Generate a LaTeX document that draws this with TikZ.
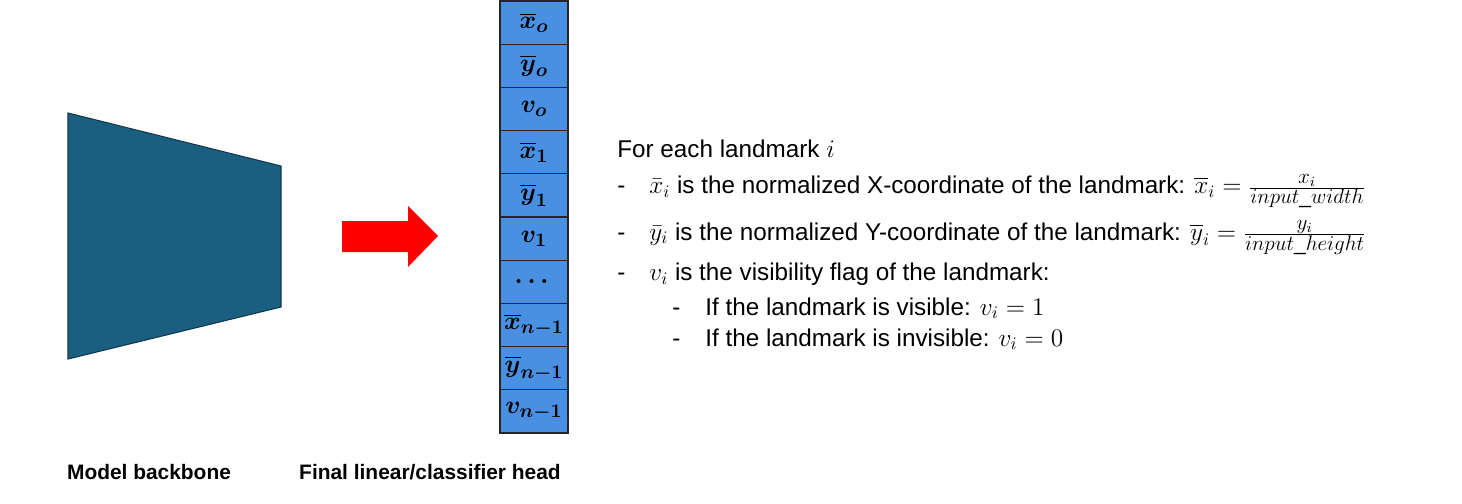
\documentclass[tikz,border=0pt]{standalone}
\usepackage{amsmath}
\usepackage{fontspec}
\setmainfont{Liberation Sans}
\usetikzlibrary{positioning}

\definecolor{backbone}{RGB}{26,94,128}
\definecolor{cellblue}{RGB}{74,144,226}

\tikzset{
  cell/.style={draw=black!85, line width=0.6pt, fill=cellblue, minimum width=1.36cm,
    minimum height=0.864cm, inner sep=0pt, outer sep=0pt, font=\fontsize{15.5}{18}\selectfont\boldmath},
  txt/.style={anchor=base west, inner sep=0pt, font=\fontsize{13.8}{16}\selectfont},
  caption/.style={anchor=base, inner sep=0pt, font=\fontsize{11.9}{14}\selectfont\bfseries},
}

\begin{document}
\begin{tikzpicture}
        \useasboundingbox (0, 0) rectangle (29.24, 10.06);

        % Draw the backbone
        \draw[fill=backbone, draw=backbone!60!black, line width=0.6pt]
            (1.36, 7.80) -- (5.62, 6.74) -- (5.62, 3.92) -- (1.36, 2.88) -- cycle;

        % Big red arrow
        \fill[red] (6.84, 5.64) -- (8.16, 5.64) -- (8.16, 5.94) -- (8.76, 5.34)
            -- (8.16, 4.72) -- (8.16, 5.02) -- (6.84, 5.02) -- cycle;

        % Draw the cells of the output vector
        \node[cell] (x0) at (10.68, 9.608) {$\overline{x}_o$};
        \node[cell, below=0pt of x0] (y0) {$\overline{y}_o$};
        \node[cell, below=0pt of y0] (v0) {$v_o$};
        \node[cell, below=0pt of v0] (x1) {$\overline{x}_1$};
        \node[cell, below=0pt of x1] (y1) {$\overline{y}_1$};
        \node[cell, below=0pt of y1] (v1) {$v_1$};
        \node[cell, below=0pt of v1] (dots) {$\dots$};
        \node[cell, below=0pt of dots] (xn) {$\overline{x}_{n-1}$};
        \node[cell, below=0pt of xn] (yn) {$\overline{y}_{n-1}$};
        \node[cell, below=0pt of yn] (vn) {$v_{n-1}$};

        % Captions
        \node[caption] (capbackbone) at (2.98, 0.474) {Model backbone};
        \node[caption] (caphead) at (8.6, 0.474) {Final linear/classifier head};

        % Description of the outputs
        \node[txt] (intro) at (12.34, 6.914) {For each landmark $i$};

        \node[txt] (dashx) at (12.34, 6.194) {-};
        \node[txt] (linex) at (12.98, 6.194) {$\bar{x}_i$ is the normalized X-coordinate of the landmark:
            $\overline{x}_i =$\;{\fontsize{12}{14}\selectfont$\frac{\textstyle x_i}{\textstyle input\_width}$}};

        \node[txt] (dashy) at (12.34, 5.26) {-};
        \node[txt] (liney) at (12.98, 5.26) {$\bar{y}_i$ is the normalized Y-coordinate of the landmark:
            $\overline{y}_i =$\;{\fontsize{12}{14}\selectfont$\frac{\textstyle y_i}{\textstyle input\_height}$}};

        \node[txt] (dashv) at (12.34, 4.446) {-};
        \node[txt] (linev) at (12.98, 4.446) {$v_i$ is the visibility flag of the landmark:};

        \node[txt] (dashvis) at (13.44, 3.76) {-};
        \node[txt] (linevis) at (14.1, 3.76) {If the landmark is visible: $v_i = 1$};

        \node[txt] (dashinv) at (13.44, 3.14) {-};
        \node[txt] (lineinv) at (14.1, 3.14) {If the landmark is invisible: $v_i = 0$};
    \end{tikzpicture}
\end{document}
